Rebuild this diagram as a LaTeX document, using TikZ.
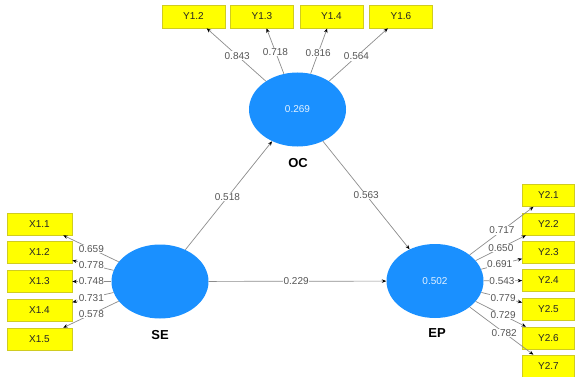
\documentclass[tikz,border=0pt]{standalone}
\usepackage{fontspec}
\setmainfont{Liberation Sans}
\usetikzlibrary{arrows.meta,calc,shapes.geometric}
\definecolor{lvblue}{HTML}{1A90FF}
\definecolor{boxyel}{HTML}{FFFF00}
\definecolor{boxedge}{HTML}{D0CC20}
\definecolor{linegray}{HTML}{8C8C8C}
\definecolor{lbltext}{HTML}{555555}
\begin{document}
\begin{tikzpicture}[x=1pt,y=-1pt,
  lv/.style={ellipse,fill=lvblue,draw=none,minimum width=97pt,minimum height=74pt,inner sep=0pt,
    text=white!88!lvblue,font=\fontsize{10}{12}\selectfont},
  lvname/.style={font=\fontsize{13}{15}\selectfont\bfseries,text=black},
  indtop/.style={rectangle,fill=boxyel,draw=boxedge,line width=0.6pt,minimum width=63pt,minimum height=23pt,inner sep=0pt,
    font=\fontsize{10}{12}\selectfont,text=black!85},
  indleft/.style={indtop,minimum width=65pt,minimum height=22pt},
  indright/.style={indtop,minimum width=52pt,minimum height=22pt},
  conn/.style={draw=linegray,line width=0.7pt,-{Stealth[length=4.5pt,width=3.5pt,black]}},
  lbl/.style={fill=white,inner sep=0.6pt,text=lbltext,font=\fontsize{10}{12}\selectfont}
]
\useasboundingbox (0,0) rectangle (575,377);
% latent variables
\node[lv] (oc) at (297.5,109.5) {0.269};
\node[lv] (se) at (160,281.5) {};
\node[lv] (ep) at (435,281) {0.502};
\node[lvname] (ocn) at (298,163) {OC};
\node[lvname] (sen) at (160,335) {SE};
\node[lvname] (epn) at (437,333) {EP};
% top indicators
\node[indtop] (y12) at (193.5,16.5) {Y1.2};
\node[indtop] (y13) at (262,16.5) {Y1.3};
\node[indtop] (y14) at (331.5,16.5) {Y1.4};
\node[indtop] (y16) at (401,16.5) {Y1.6};
% left indicators
\node[indleft] (x11) at (39.5,224) {X1.1};
\node[indleft] (x12) at (39.5,252.5) {X1.2};
\node[indleft] (x13) at (39.5,281.5) {X1.3};
\node[indleft] (x14) at (39.5,310) {X1.4};
\node[indleft] (x15) at (39.5,339) {X1.5};
% right indicators
\node[indright] (y21) at (548.5,195.5) {Y2.1};
\node[indright] (y22) at (548.5,224) {Y2.2};
\node[indright] (y23) at (548.5,252) {Y2.3};
\node[indright] (y24) at (548.5,280.5) {Y2.4};
\node[indright] (y25) at (548.5,309) {Y2.5};
\node[indright] (y26) at (548.5,338) {Y2.6};
\node[indright] (y27) at (548.5,366) {Y2.7};
% connectors
\foreach \t in {y12,y13,y14,y16} \draw[conn] (oc) -- (\t);
\foreach \t in {x11,x12,x13,x14,x15} \draw[conn] (se) -- (\t);
\foreach \t in {y21,y22,y23,y24,y25,y26,y27} \draw[conn] (ep) -- (\t);
\draw[conn] (se) -- (oc);
\draw[conn] (oc) -- (ep);
\draw[conn] (se) -- (ep);
% labels
\node[lbl] (l1) at ($(oc)!0.58!(y12)$) {0.843};
\node[lbl] (l2) at ($(oc)!0.62!(y13)$) {0.718};
\node[lbl] (l3) at ($(oc)!0.61!(y14)$) {0.816};
\node[lbl] (l4) at ($(oc)!0.57!(y16)$) {0.564};
\node[lbl] (l5) at ($(se)!0.57!(x11)$) {0.659};
\node[lbl] (l6) at ($(se)!0.57!(x12)$) {0.778};
\node[lbl] (l7) at ($(se)!0.57!(x13)$) {0.748};
\node[lbl] (l8) at ($(se)!0.57!(x14)$) {0.731};
\node[lbl] (l9) at ($(se)!0.57!(x15)$) {0.578};
\node[lbl] (m1) at ($(ep)!0.59!(y21)$) {0.717};
\node[lbl] (m2) at ($(ep)!0.58!(y22)$) {0.650};
\node[lbl] (m3) at ($(ep)!0.57!(y23)$) {0.691};
\node[lbl] (m4) at ($(ep)!0.59!(y24)$) {0.543};
\node[lbl] (m5) at ($(ep)!0.60!(y25)$) {0.779};
\node[lbl] (m6) at ($(ep)!0.60!(y26)$) {0.729};
\node[lbl] (m7) at ($(ep)!0.61!(y27)$) {0.782};
\node[lbl] (p1) at ($(se)!0.49!(oc)$) {0.518};
\node[lbl] (p2) at ($(oc)!0.50!(ep)$) {0.563};
\node[lbl] (p3) at ($(se)!0.495!(ep)$) {0.229};
\end{tikzpicture}
\end{document}
